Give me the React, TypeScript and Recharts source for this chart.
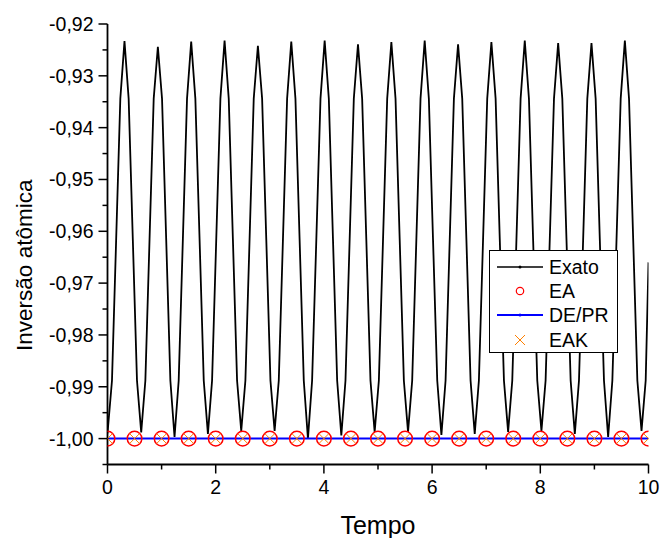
import React from "react";
import {
  ComposedChart,
  Line,
  Scatter,
  XAxis,
  YAxis,
  Legend,
} from "recharts";

// tempo / inversão (curva exata)
const tempoExato = [
  0, 0.083, 0.16, 0.237, 0.314, 0.391, 0.468, 0.545,
  0.623, 0.7, 0.777, 0.854, 0.931, 1.008, 1.085, 1.162,
  1.239, 1.316, 1.393, 1.47, 1.547, 1.624, 1.702, 1.779,
  1.856, 1.933, 2.01, 2.087, 2.164, 2.241, 2.318, 2.395,
  2.472, 2.549, 2.626, 2.703, 2.78, 2.858, 2.935, 3.012,
  3.089, 3.166, 3.243, 3.32, 3.397, 3.474, 3.551, 3.628,
  3.705, 3.782, 3.86, 3.937, 4.014, 4.091, 4.168, 4.245,
  4.322, 4.399, 4.476, 4.553, 4.63, 4.707, 4.784, 4.861,
  4.938, 5.016, 5.093, 5.17, 5.247, 5.324, 5.401, 5.478,
  5.555, 5.632, 5.709, 5.786, 5.863, 5.94, 6.017, 6.095,
  6.172, 6.249, 6.326, 6.403, 6.48, 6.557, 6.634, 6.711,
  6.788, 6.865, 6.942, 7.019, 7.096, 7.174, 7.251, 7.328,
  7.405, 7.482, 7.559, 7.636, 7.713, 7.79, 7.867, 7.944,
  8.021, 8.098, 8.175, 8.253, 8.33, 8.407, 8.484, 8.561,
  8.638, 8.715, 8.792, 8.869, 8.946, 9.023, 9.1, 9.177,
  9.254, 9.332, 9.409, 9.486, 9.563, 9.64, 9.717, 9.794,
  9.871, 9.948, 10,
];

const exato = [
  -0.999, -0.9888, -0.9616, -0.9344, -0.9233, -0.9344, -0.9616, -0.9888,
  -0.9988, -0.9888, -0.9616, -0.9344, -0.9244, -0.9344, -0.9616, -0.9888,
  -0.9997, -0.9888, -0.9616, -0.9344, -0.9234, -0.9344, -0.9616, -0.9888,
  -0.9991, -0.9888, -0.9616, -0.9344, -0.9232, -0.9344, -0.9616, -0.9888,
  -0.9985, -0.9888, -0.9616, -0.9344, -0.9242, -0.9344, -0.9616, -0.9888,
  -0.9985, -0.9888, -0.9616, -0.9344, -0.9234, -0.9344, -0.9616, -0.9888,
  -1.0, -0.9888, -0.9616, -0.9344, -0.9232, -0.9344, -0.9616, -0.9888,
  -0.9994, -0.9888, -0.9616, -0.9344, -0.9239, -0.9344, -0.9616, -0.9888,
  -0.9987, -0.9888, -0.9616, -0.9344, -0.9235, -0.9344, -0.9616, -0.9888,
  -0.9987, -0.9888, -0.9616, -0.9344, -0.9232, -0.9344, -0.9616, -0.9888,
  -0.9993, -0.9888, -0.9616, -0.9344, -0.9239, -0.9344, -0.9616, -0.9888,
  -0.9991, -0.9888, -0.9616, -0.9344, -0.9235, -0.9344, -0.9616, -0.9888,
  -0.9987, -0.9888, -0.9616, -0.9344, -0.9232, -0.9344, -0.9616, -0.9888,
  -0.9985, -0.9888, -0.9616, -0.9344, -0.9237, -0.9344, -0.9616, -0.9888,
  -0.9991, -0.9888, -0.9616, -0.9344, -0.9237, -0.9344, -0.9616, -0.9888,
  -0.9997, -0.9888, -0.9616, -0.9344, -0.9232, -0.9344, -0.9616, -0.9888,
  -0.9985, -0.9888, -0.966,
];

// pontos das aproximações (a cada 0,5)
const tempoMarcadores = [
  0, 0.5, 1, 1.5, 2, 2.5, 3, 3.5, 4, 4.5, 5, 5.5, 6, 6.5, 7, 7.5, 8, 8.5,
  9, 9.5, 10,
];
const ea = [
  -1, -1, -1, -1, -1, -1, -1, -1, -1, -1, -1, -1, -1, -1, -1, -1, -1, -1,
  -1, -1, -1,
];
const dePr = [
  -1, -1, -1, -1, -1, -1, -1, -1, -1, -1, -1, -1, -1, -1, -1, -1, -1, -1,
  -1, -1, -1,
];
const eak = [
  -1, -1, -1, -1, -1, -1, -1, -1, -1, -1, -1, -1, -1, -1, -1, -1, -1, -1,
  -1, -1, -1,
];

const xTicks = [0, 1, 2, 3, 4, 5, 6, 7, 8, 9, 10];
const yTicks = [
  -1.005, -1, -0.995, -0.99, -0.985, -0.98, -0.975, -0.97, -0.965, -0.96,
  -0.955, -0.95, -0.945, -0.94, -0.935, -0.93, -0.925, -0.92,
];
const legendNames = ["Exato", "EA", "DE/PR", "EAK"];

const FONT = "'Liberation Sans', Arial, sans-serif";

const toPoints = (ts: number[], ys: number[]) =>
  ts.map((t, i) => ({ t, y: ys[i] }));

const exatoData = toPoints(tempoExato, exato);
const eaData = toPoints(tempoMarcadores, ea);
const dePrData = toPoints(tempoMarcadores, dePr);
const eakData = toPoints(tempoMarcadores, eak);

const XTick = (props: any) => {
  const { x, y, payload } = props;
  const major = payload.value % 2 === 0;
  return (
    <g>
      <line x1={x} x2={x} y1={y} y2={y + (major ? 9 : 5)} stroke="#000" strokeWidth={1.5} />
      {major && (
        <text x={x} y={y + 29} textAnchor="middle" fontSize={19.5} fontFamily={FONT} fill="#000">
          {payload.value}
        </text>
      )}
    </g>
  );
};

const YTick = (props: any) => {
  const { x, y, payload } = props;
  const v = payload.value;
  const major = Math.round(v * 1000) % 10 === 0;
  return (
    <g>
      <line x1={x} x2={x - (major ? 9 : 5)} y1={y} y2={y} stroke="#000" strokeWidth={1.5} />
      {major && (
        <text x={x - 14} y={y} dy="0.36em" textAnchor="end" fontSize={19.5} fontFamily={FONT} fill="#000">
          {v.toFixed(2).replace(".", ",")}
        </text>
      )}
    </g>
  );
};

const Circle = (props: any) => (
  <circle cx={props.cx} cy={props.cy} r={7.3} fill="none" stroke="#FF0000" strokeWidth={1.5} />
);

const Cross = (props: any) => {
  const { cx, cy } = props;
  const s = 5;
  return (
    <g stroke="#FF8000" strokeWidth={1}>
      <line x1={cx - s} y1={cy - s} x2={cx + s} y2={cy + s} />
      <line x1={cx - s} y1={cy + s} x2={cx + s} y2={cy - s} />
    </g>
  );
};

const LegendIcon = ({ name }: { name: string }) => {
  const cy = 12;
  if (name === "Exato" || name === "DE/PR") {
    const color = name === "Exato" ? "#000" : "#0000FF";
    return (
      <svg width={59} height={24}>
        <line x1={7} x2={53} y1={cy} y2={cy} stroke={color} strokeWidth={name === "Exato" ? 1.6 : 2} />
        <circle cx={30} cy={cy} r={1.5} fill={color} />
      </svg>
    );
  }
  if (name === "EA") {
    return (
      <svg width={59} height={24}>
        <circle cx={30} cy={cy} r={3.7} fill="none" stroke="#FF0000" strokeWidth={1.2} />
      </svg>
    );
  }
  return (
    <svg width={59} height={24}>
      <g stroke="#FF8000" strokeWidth={1}>
        <line x1={25} y1={cy - 5} x2={35} y2={cy + 5} />
        <line x1={25} y1={cy + 5} x2={35} y2={cy - 5} />
      </g>
    </svg>
  );
};

const renderLegend = () => (
  <div
    style={{
      boxSizing: "border-box",
      width: 129,
      height: 103,
      border: "1px solid #000",
      background: "#fff",
      paddingTop: 4,
      fontFamily: FONT,
      fontSize: 19.5,
    }}
  >
    {legendNames.map((name) => (
      <div key={name} style={{ display: "flex", alignItems: "center", height: 24.4 }}>
        <LegendIcon name={name} />
        <span style={{ lineHeight: "24px" }}>{name}</span>
      </div>
    ))}
  </div>
);

const renderYLabel = (props: any) => {
  const { viewBox } = props;
  const cx = viewBox.x + 31.5;
  const cy = viewBox.y + viewBox.height / 2 + 21;
  return (
    <text
      x={cx}
      y={cy}
      transform={`rotate(-90, ${cx}, ${cy})`}
      textAnchor="middle"
      fontSize={22.5}
      fontFamily={FONT}
      fill="#000"
    >
      Inversão atômica
    </text>
  );
};

const renderXLabel = (props: any) => {
  const { viewBox } = props;
  return (
    <text
      x={viewBox.x + viewBox.width / 2}
      y={viewBox.y + 69}
      textAnchor="middle"
      fontSize={25}
      fontFamily={FONT}
      fill="#000"
    >
      Tempo
    </text>
  );
};

export default function App() {
  return (
    <div style={{ position: "absolute", left: 0, top: 0, background: "#fff" }}>
      <ComposedChart
        width={661}
        height={538}
        margin={{ top: 24, right: 12.5, bottom: 0, left: 0 }}
      >
        <XAxis
          type="number"
          dataKey="t"
          domain={[0, 10]}
          ticks={xTicks}
          interval={0}
          allowDataOverflow
          height={73.5}
          tickSize={0}
          tickMargin={0}
          tickLine={false}
          tick={<XTick />}
          axisLine={{ stroke: "#000", strokeWidth: 1.8 }}
          label={renderXLabel}
        />
        <YAxis
          type="number"
          dataKey="y"
          domain={[-1.005, -0.92]}
          ticks={yTicks}
          interval={0}
          allowDataOverflow
          width={107.5}
          tickSize={0}
          tickMargin={0}
          tickLine={false}
          tick={<YTick />}
          axisLine={{ stroke: "#000", strokeWidth: 1.8 }}
          label={renderYLabel}
        />
        <Line
          data={exatoData}
          dataKey="y"
          name="Exato"
          stroke="#000"
          strokeWidth={1.8}
          dot={false}
          activeDot={false}
          isAnimationActive={false}
        />
        <Scatter
          data={eaData}
          dataKey="y"
          name="EA"
          shape={<Circle />}
          isAnimationActive={false}
        />
        <Line
          data={dePrData}
          dataKey="y"
          name="DE/PR"
          stroke="#0000FF"
          strokeWidth={2}
          dot={false}
          activeDot={false}
          isAnimationActive={false}
        />
        <Scatter
          data={eakData}
          dataKey="y"
          name="EAK"
          shape={<Cross />}
          isAnimationActive={false}
        />
        <Legend
          layout="vertical"
          align="center"
          verticalAlign="middle"
          wrapperStyle={{ left: 489, top: 249.5, width: 129, height: 103 }}
          content={renderLegend}
        />
      </ComposedChart>
    </div>
  );
}
